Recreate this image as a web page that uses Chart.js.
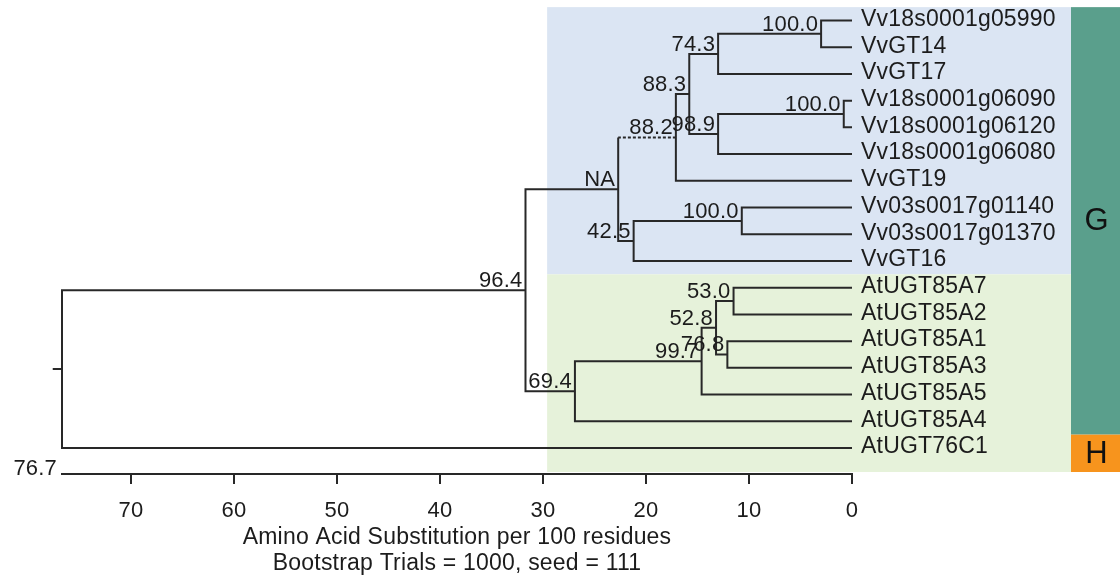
<!DOCTYPE html>
<html>
<head>
<meta charset="utf-8">
<script src="https://cdn.jsdelivr.net/npm/chart.js@4.4.1/dist/chart.umd.min.js"></script>
<style>
  html, body { margin: 0; padding: 0; background: #ffffff; }
  #wrap { width: 1120px; height: 578px; position: relative; }
</style>
</head>
<body>
<div id="wrap"><canvas id="tree"></canvas></div>
<script>
// ---- tree data ----
const leafNames = [
  'Vv18s0001g05990', 'VvGT14', 'VvGT17', 'Vv18s0001g06090', 'Vv18s0001g06120',
  'Vv18s0001g06080', 'VvGT19', 'Vv03s0017g01140', 'Vv03s0017g01370', 'VvGT16',
  'AtUGT85A7', 'AtUGT85A2', 'AtUGT85A1', 'AtUGT85A3', 'AtUGT85A5', 'AtUGT85A4', 'AtUGT76C1'
];
// Internal nodes, children listed before parents.
// A child is a leaf index (number) or 'n' + internal node index.
const nodeLeft  = [0, 'n0', 3, 'n2', 'n1', 'n4', 7, 'n6', 'n5', 10, 12, 'n9', 'n11', 'n12', 'n8', 'n14'];
const nodeRight = [1, 2, 4, 5, 'n3', 6, 8, 9, 'n7', 11, 13, 'n10', 14, 15, 'n13', 16];
// node depth, amino acid substitutions per 100 residues
const nodeHeight = [3.0, 13.0, 0.8, 13.0, 15.8, 17.1, 10.7, 21.2, 22.7, 11.5, 12.1, 13.2, 14.6, 26.9, 31.7, 76.7];
// bootstrap support (1000 trials)
const nodeSupport = ['100.0', '74.3', '100.0', '98.9', '88.3', '88.2', '100.0', '42.5', 'NA',
                     '53.0', '76.8', '52.8', '99.7', '69.4', '96.4', ''];
// branches leading to these nodes are drawn dashed
const dashedBranches = ['n5'];
const treeDepth = 76.7;
const tickValues = [0, 10, 20, 30, 40, 50, 60, 70];

// clade bar on the right
const cladeNames = ['G', 'H'];
const cladeFirst = [0, 16];
const cladeLast  = [15, 16];
// shaded species blocks
const shadeFirst = [0, 10];
const shadeLast  = [9, 16];

// ---- styles ----
const FONT = "'Liberation Sans', Arial, sans-serif";
const LINE_COLOR = '#282828';
const TEXT_COLOR = '#1c1c1c';
const SHADE_COLORS = ['#dbe5f3', '#e6f2da'];
const CLADE_COLORS = ['#5a9f8c', '#f7941d'];
const SHADE_LEFT = 29.6;      // left edge of the shaded blocks, in axis units
const BAR_LEFT = 1071;        // clade bar left edge (px)
const ROOT_STUB = 0.9;        // root stub length, axis units
const SPACING = '0.2px';

// ---- geometry from the tree ----
const nodeY = [];
const childIdx = c => +String(c).slice(1);
const yOf = c => typeof c === 'number' ? c : nodeY[childIdx(c)];
const hOf = c => typeof c === 'number' ? 0 : nodeHeight[childIdx(c)];
nodeLeft.forEach((l, i) => { nodeY[i] = (yOf(l) + yOf(nodeRight[i])) / 2; });

const GAP = { x: NaN, y: NaN };
const solidPts = [];
const dashedPts = [];
nodeLeft.forEach((l, i) => {
  const r = nodeRight[i];
  const h = nodeHeight[i];
  const lDash = typeof l === 'string' && dashedBranches.includes(l);
  const rDash = typeof r === 'string' && dashedBranches.includes(r);
  const path = [];
  if (lDash) dashedPts.push({ x: hOf(l), y: yOf(l) }, { x: h, y: yOf(l) }, GAP);
  else path.push({ x: hOf(l), y: yOf(l) });
  path.push({ x: h, y: yOf(l) }, { x: h, y: yOf(r) });
  if (rDash) dashedPts.push({ x: h, y: yOf(r) }, { x: hOf(r), y: yOf(r) }, GAP);
  else path.push({ x: hOf(r), y: yOf(r) });
  solidPts.push(...path, GAP);
});
const rootIdx = nodeLeft.length - 1;
solidPts.push({ x: nodeHeight[rootIdx], y: nodeY[rootIdx] },
              { x: nodeHeight[rootIdx] + ROOT_STUB, y: nodeY[rootIdx] });

// ---- decorations: shading, clade bar, labels ----
const treeDecor = {
  id: 'treeDecor',
  beforeDraw(chart) {
    chart.ctx.letterSpacing = SPACING;
  },
  beforeDatasetsDraw(chart) {
    const { ctx, chartArea, scales: { x, y } } = chart;
    const bottomOf = last => last === leafNames.length - 1 ? chartArea.bottom - 2 : y.getPixelForValue(last + 0.5);
    ctx.save();
    const left = x.getPixelForValue(SHADE_LEFT);
    shadeFirst.forEach((f, i) => {
      const top = y.getPixelForValue(f - 0.5);
      ctx.fillStyle = SHADE_COLORS[i];
      ctx.fillRect(left, top, BAR_LEFT - left, bottomOf(shadeLast[i]) - top);
    });
    cladeFirst.forEach((f, i) => {
      const top = y.getPixelForValue(f - 0.5);
      const bot = bottomOf(cladeLast[i]);
      ctx.fillStyle = CLADE_COLORS[i];
      ctx.fillRect(BAR_LEFT, top, chart.width - BAR_LEFT, bot - top);
      ctx.fillStyle = '#111111';
      ctx.letterSpacing = '0px';
      ctx.font = "31px 'Liberation Sans', Arial, sans-serif";
      ctx.textAlign = 'center';
      ctx.textBaseline = 'middle';
      ctx.fillText(cladeNames[i], (BAR_LEFT + chart.width) / 2 + 1, (top + bot) / 2 + 1);
    });
    ctx.restore();
  },
  afterDatasetsDraw(chart) {
    const { ctx, chartArea, scales: { x, y } } = chart;
    ctx.save();
    ctx.letterSpacing = SPACING;
    ctx.fillStyle = TEXT_COLOR;
    // leaf names
    ctx.font = '23px ' + FONT;
    ctx.textAlign = 'left';
    ctx.textBaseline = 'middle';
    const x0 = x.getPixelForValue(0);
    leafNames.forEach((name, i) => ctx.fillText(name, x0 + 9, y.getPixelForValue(i) - 1));
    // bootstrap values
    ctx.font = '22px ' + FONT;
    ctx.textAlign = 'right';
    ctx.textBaseline = 'alphabetic';
    nodeSupport.forEach((s, i) => {
      if (!s) return;
      ctx.fillText(s, x.getPixelForValue(nodeHeight[i]) - 3, y.getPixelForValue(nodeY[i]) - 3);
    });
    // total depth at the start of the scale bar
    ctx.fillText(treeDepth.toFixed(1), x.getPixelForValue(treeDepth) - 5, chartArea.bottom + 1);
    ctx.restore();
  }
};

new Chart(document.getElementById('tree'), {
  type: 'scatter',
  data: {
    datasets: [
      { data: solidPts, showLine: true, borderColor: LINE_COLOR, borderWidth: 2,
        pointRadius: 0, pointHoverRadius: 0, clip: false, tension: 0 },
      { data: dashedPts, showLine: true, borderColor: LINE_COLOR, borderWidth: 2,
        borderDash: [3, 2], pointRadius: 0, pointHoverRadius: 0, clip: false, tension: 0 }
    ]
  },
  options: {
    responsive: true,
    maintainAspectRatio: false,
    animation: false,
    events: [],
    layout: { padding: { left: 62, right: 268, top: 0, bottom: 0 } },
    plugins: { legend: { display: false }, tooltip: { enabled: false } },
    scales: {
      x: {
        type: 'linear',
        position: 'bottom',
        reverse: true,
        min: 0,
        max: treeDepth,
        afterBuildTicks: scale => { scale.ticks = tickValues.map(v => ({ value: v })); },
        afterFit: scale => { scale.height = 104; },
        border: { display: true, color: LINE_COLOR, width: 2 },
        grid: { drawOnChartArea: false, drawTicks: true, tickLength: 10, color: LINE_COLOR, lineWidth: 2 },
        ticks: {
          autoSkip: false, maxRotation: 0, padding: 14, color: TEXT_COLOR,
          font: { family: FONT, size: 22 }
        },
        title: {
          display: true,
          text: ['Amino Acid Substitution per 100 residues', 'Bootstrap Trials = 1000, seed = 111'],
          color: TEXT_COLOR,
          font: { family: FONT, size: 23, lineHeight: 1.1 },
          padding: { top: 0, bottom: 2 }
        }
      },
      y: {
        type: 'linear',
        display: false,
        reverse: true,
        min: -0.767,
        max: 16.973
      }
    }
  },
  plugins: [treeDecor]
});
</script>
</body>
</html>
